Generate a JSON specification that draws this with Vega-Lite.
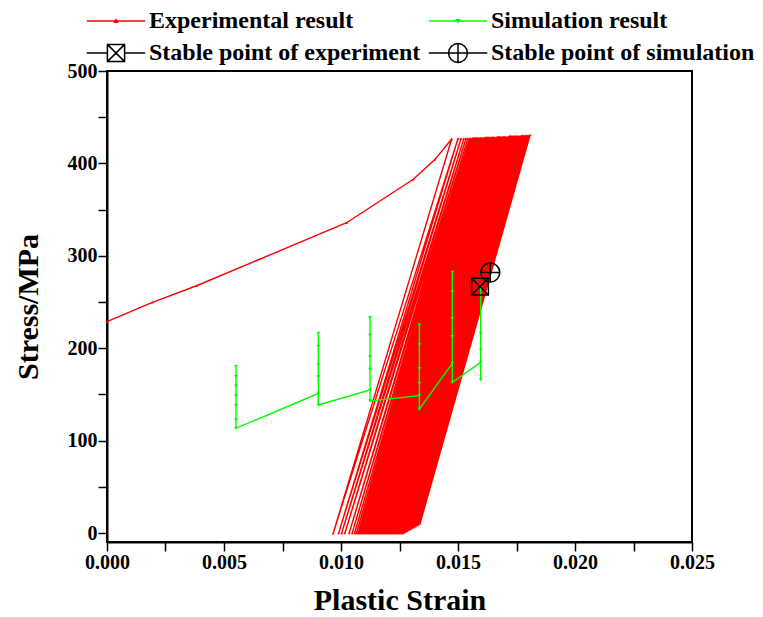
{
  "$schema": "https://vega.github.io/schema/vega-lite/v6.json",
  "autosize": {"type": "none"},
  "padding": {"left": 107, "top": 71, "right": 71, "bottom": 75},
  "width": 585,
  "height": 471,
  "background": "white",
  "config": {
    "view": {"stroke": "#000", "strokeWidth": 2},
    "axis": {
      "labelFont": "Liberation Serif", "labelFontWeight": "bold", "labelFontSize": 20, "labelColor": "#000",
      "titleFont": "Liberation Serif", "titleFontWeight": "bold", "titleFontSize": 30, "titleColor": "#000",
      "domainColor": "#000", "domainWidth": 2, "tickColor": "#000", "tickWidth": 1.5, "grid": false,
      "labelOverlap": false, "labelFlush": false
    }
  },
  "encoding": {
    "x": {
      "field": "s", "type": "quantitative",
      "scale": {"domain": [0, 0.025], "nice": false, "zero": false},
      "axis": {
        "title": "Plastic Strain",
        "values": [0, 0.0025, 0.005, 0.0075, 0.01, 0.0125, 0.015, 0.0175, 0.02, 0.0225, 0.025],
        "labelExpr": "abs(datum.value*200 - round(datum.value*200)) < 0.001 ? format(datum.value, '.3f') : ''",
        "ticks": true,
        "tickSize": 9,
        "labelPadding": 1,
        "titlePadding": 13,
        "encode": {"ticks": {"update": {"y2": {"signal": "abs(datum.value*200 - round(datum.value*200)) < 0.001 ? -9 : -5"}}}}
      }
    },
    "y": {
      "field": "p", "type": "quantitative",
      "scale": {"domain": [-9.74, 500], "nice": false, "zero": false},
      "axis": {
        "title": "Stress/MPa",
        "values": [0, 50, 100, 150, 200, 250, 300, 350, 400, 450, 500],
        "labelExpr": "datum.value % 100 === 0 ? datum.label : ''",
        "ticks": true,
        "tickSize": 9,
        "labelPadding": 1,
        "titlePadding": 24,
        "encode": {"ticks": {"update": {"x2": {"signal": "datum.value % 100 === 0 ? 9 : 5"}}}}
      }
    }
  },
  "layer": [
    {
      "data": {"values": [
        {"s":0,"p":228.7,"o":1},{"s":0.00194,"p":249.7,"o":2},{"s":0.00383,"p":267.6,"o":3},{"s":0.01024,"p":335.8,"o":4},
        {"s":0.01309,"p":382.8,"o":5},{"s":0.01402,"p":404.4,"o":6},{"s":0.01473,"p":426.4,"o":7},
        {"s":0.00967,"p":0,"o":8},{"s":0.01500,"p":427,"o":9},{"s":0.00990,"p":0,"o":10},{"s":0.01513,"p":427,"o":11},
        {"s":0.01003,"p":0,"o":12},{"s":0.01525,"p":427,"o":13},{"s":0.01017,"p":0,"o":14},{"s":0.01534,"p":427,"o":15},
        {"s":0.01035,"p":0,"o":16},{"s":0.01542,"p":427,"o":17},{"s":0.01048,"p":0,"o":18},{"s":0.01549,"p":427,"o":19},
        {"s":0.01058,"p":0,"o":20},{"s":0.01555,"p":427,"o":21},{"s":0.01066,"p":0,"o":22},{"s":0.01560,"p":427,"o":23},
        {"s":0.01073,"p":0,"o":24},{"s":0.01564,"p":427.5,"o":25},{"s":0.01079,"p":0,"o":26},{"s":0.01569,"p":427.5,"o":27},
        {"s":0.01084,"p":0,"o":28},{"s":0.01574,"p":427.5,"o":29},{"s":0.01090,"p":0,"o":30},{"s":0.01580,"p":427.5,"o":31},
        {"s":0.01096,"p":0,"o":32},{"s":0.01585,"p":427.5,"o":33},{"s":0.01101,"p":0,"o":34},{"s":0.01590,"p":427.5,"o":35},
        {"s":0.01107,"p":0,"o":36},{"s":0.01595,"p":427.5,"o":37},{"s":0.01112,"p":0,"o":38},{"s":0.01600,"p":427.5,"o":39},
        {"s":0.01118,"p":0,"o":40},{"s":0.01606,"p":427.5,"o":41},{"s":0.01124,"p":0,"o":42},{"s":0.01611,"p":427.5,"o":43},
        {"s":0.01129,"p":0,"o":44},{"s":0.01616,"p":428,"o":45},{"s":0.01135,"p":0,"o":46},{"s":0.01621,"p":428,"o":47},
        {"s":0.01141,"p":0,"o":48},{"s":0.01626,"p":428,"o":49},{"s":0.01146,"p":0,"o":50},{"s":0.01631,"p":428,"o":51},
        {"s":0.01152,"p":0,"o":52},{"s":0.01637,"p":428,"o":53},{"s":0.01158,"p":0,"o":54},{"s":0.01642,"p":428,"o":55},
        {"s":0.01163,"p":0,"o":56},{"s":0.01647,"p":428,"o":57},{"s":0.01169,"p":0,"o":58},{"s":0.01652,"p":428,"o":59},
        {"s":0.01175,"p":0,"o":60},{"s":0.01657,"p":428,"o":61},{"s":0.01180,"p":0,"o":62},{"s":0.01663,"p":428,"o":63},
        {"s":0.01186,"p":0,"o":64},{"s":0.01668,"p":428.5,"o":65},{"s":0.01191,"p":0,"o":66},{"s":0.01673,"p":428.5,"o":67},
        {"s":0.01197,"p":0,"o":68},{"s":0.01678,"p":428.5,"o":69},{"s":0.01203,"p":0,"o":70},{"s":0.01683,"p":428.5,"o":71},
        {"s":0.01208,"p":0,"o":72},{"s":0.01689,"p":428.5,"o":73},{"s":0.01214,"p":0,"o":74},{"s":0.01694,"p":428.5,"o":75},
        {"s":0.01220,"p":0,"o":76},{"s":0.01699,"p":428.5,"o":77},{"s":0.01225,"p":0,"o":78},{"s":0.01704,"p":428.5,"o":79},
        {"s":0.01231,"p":0,"o":80},{"s":0.01709,"p":428.5,"o":81},{"s":0.01237,"p":0,"o":82},{"s":0.01715,"p":428.5,"o":83},
        {"s":0.01242,"p":0,"o":84},{"s":0.01720,"p":429.5,"o":85},{"s":0.01248,"p":0,"o":86},{"s":0.01725,"p":429.5,"o":87},
        {"s":0.01253,"p":0,"o":88},{"s":0.01730,"p":429.5,"o":89},{"s":0.01259,"p":0,"o":90},{"s":0.01735,"p":429.5,"o":91},
        {"s":0.01265,"p":0,"o":92},{"s":0.01740,"p":429.5,"o":93},{"s":0.01270,"p":0.8,"o":94},{"s":0.01746,"p":429.5,"o":95},
        {"s":0.01276,"p":1.6,"o":96},{"s":0.01751,"p":429.5,"o":97},{"s":0.01282,"p":2.4,"o":98},{"s":0.01756,"p":429.5,"o":99},
        {"s":0.01287,"p":3.2,"o":100},{"s":0.01761,"p":429.5,"o":101},{"s":0.01293,"p":4,"o":102},{"s":0.01766,"p":429.5,"o":103},
        {"s":0.01299,"p":4.9,"o":104},{"s":0.01772,"p":430,"o":105},{"s":0.01304,"p":5.7,"o":106},{"s":0.01777,"p":430,"o":107},
        {"s":0.01310,"p":6.5,"o":108},{"s":0.01782,"p":430,"o":109},{"s":0.01316,"p":7.3,"o":110},{"s":0.01787,"p":430,"o":111},
        {"s":0.01321,"p":8.1,"o":112},{"s":0.01792,"p":430,"o":113},{"s":0.01327,"p":8.9,"o":114},{"s":0.01798,"p":430,"o":115},
        {"s":0.01332,"p":9.7,"o":116},{"s":0.01803,"p":430,"o":117},{"s":0.01338,"p":10.5,"o":118},{"s":0.01808,"p":430.7,"o":119}
      ]},
      "mark": {"type": "line", "strokeWidth": 1.4, "point": {"filled": true, "shape": "triangle-up", "size": 8}},
      "encoding": {
        "order": {"field": "o", "type": "quantitative"},
        "color": {
          "datum": "Experimental result",
          "scale": {
            "domain": ["Experimental result", "Stable point of experiment", "Simulation result", "Stable point of simulation"],
            "range": ["#ff0000", "#000000", "#00ff00", "#000000"]
          },
          "legend": {
            "title": null,
            "orient": "none",
            "legendX": -20,
            "legendY": -62,
            "columns": 2,
            "columnPadding": 5,
            "rowPadding": 7,
            "padding": 0,
            "symbolSize": 100,
            "symbolOffset": 17,
            "labelOffset": 21,
            "labelFont": "Liberation Serif",
            "labelFontWeight": "bold",
            "labelFontSize": 24,
            "labelColor": "#000",
            "labelLimit": 0,
            "encode": {
              "symbols": {
                "update": {
                  "shape": {"signal": "datum.value === 'Experimental result' ? 'M-5.74,0H5.74M-0.29,0.26L0,-0.26L0.29,0.26Z' : datum.value === 'Simulation result' ? 'M-5.74,0H5.74M-0.29,-0.26L0,0.26L0.29,-0.26Z' : datum.value === 'Stable point of experiment' ? 'M-5.74,0H-1.72M1.72,0H5.74M-1.72,-1.72H1.72M1.72,-1.72V1.72M1.72,1.72H-1.72M-1.72,1.72V-1.72M-1.72,-1.72L1.72,1.72M-1.72,1.72L1.72,-1.72' : 'M-5.74,0H-1.894M1.894,0H5.74M0,-1.894V1.894M-1.894,0H1.894M1.894,0L1.75,0.725M1.75,0.725L1.339,1.339M1.339,1.339L0.725,1.75M0.725,1.75L0,1.894M0,1.894L-0.725,1.75M-0.725,1.75L-1.339,1.339M-1.339,1.339L-1.75,0.725M-1.75,0.725L-1.894,0M-1.894,0L-1.75,-0.725M-1.75,-0.725L-1.339,-1.339M-1.339,-1.339L-0.725,-1.75M-0.725,-1.75L0,-1.894M0,-1.894L0.725,-1.75M0.725,-1.75L1.339,-1.339M1.339,-1.339L1.75,-0.725M1.75,-0.725L1.894,0'"},
                  "size": {"value": 100},
                  "stroke": {"signal": "datum.value === 'Experimental result' ? '#ff0000' : datum.value === 'Simulation result' ? '#00ff00' : '#000000'"},
                  "fill": {"signal": "datum.value === 'Experimental result' ? '#ff0000' : datum.value === 'Simulation result' ? '#00ff00' : 'transparent'"},
                  "strokeWidth": {"value": 1.5},
                  "strokeCap": {"value": "round"},
                  "opacity": {"value": 1}
                }
              }
            }
          }
        }
      }
    },
    {
      "data": {"values": [
        {"s":0.00551,"p":122.3,"o":1},{"s":0.00551,"p":137.8,"o":2},{"s":0.00551,"p":148.6,"o":3},{"s":0.00551,"p":159,"o":4},
        {"s":0.00551,"p":169.2,"o":5},{"s":0.00551,"p":180,"o":6},{"s":0.00551,"p":113.3,"o":7},
        {"s":0.00903,"p":151,"o":8},{"s":0.00903,"p":169,"o":9},{"s":0.00903,"p":182,"o":10},{"s":0.00903,"p":202,"o":11},
        {"s":0.00903,"p":216,"o":12},{"s":0.00903,"p":138.5,"o":13},
        {"s":0.01124,"p":154.8,"o":14},{"s":0.01124,"p":177,"o":15},{"s":0.01124,"p":191,"o":16},{"s":0.01124,"p":214,"o":17},
        {"s":0.01124,"p":233,"o":18},{"s":0.01124,"p":142.9,"o":19},
        {"s":0.01335,"p":148.6,"o":20},{"s":0.01335,"p":162,"o":21},{"s":0.01335,"p":178,"o":22},{"s":0.01335,"p":203.5,"o":23},
        {"s":0.01335,"p":225,"o":24},{"s":0.01335,"p":134,"o":25},
        {"s":0.01476,"p":183.6,"o":26},{"s":0.01476,"p":212.5,"o":27},{"s":0.01476,"p":232,"o":28},{"s":0.01476,"p":261,"o":29},
        {"s":0.01476,"p":282,"o":30},{"s":0.01476,"p":163,"o":31},
        {"s":0.01597,"p":184.7,"o":32},{"s":0.01597,"p":198,"o":33},{"s":0.01597,"p":216,"o":34},{"s":0.01597,"p":255.7,"o":35},
        {"s":0.01597,"p":265,"o":36},{"s":0.01597,"p":165.6,"o":37}
      ]},
      "mark": {"type": "line", "strokeWidth": 1.4, "point": {"filled": true, "shape": "triangle-down", "size": 14}},
      "encoding": {
        "order": {"field": "o", "type": "quantitative"},
        "color": {"datum": "Simulation result"}
      }
    },
    {
      "data": {"values": [{"s": 0.01594, "p": 266.6}]},
      "mark": {"type": "point", "shape": "M-1,-1H1V1H-1ZM-1,-1L1,1M-1,1L1,-1", "filled": false, "size": 280, "strokeWidth": 1.5, "opacity": 1},
      "encoding": {"color": {"datum": "Stable point of experiment"}}
    },
    {
      "data": {"values": [{"s": 0.01638, "p": 281.8}]},
      "mark": {"type": "point", "shape": "M-1,0A1,1,0,1,0,1,0A1,1,0,1,0,-1,0ZM-1,0H1M0,-1V1", "filled": false, "size": 361, "strokeWidth": 1.5, "opacity": 1},
      "encoding": {"color": {"datum": "Stable point of simulation"}}
    }
  ]
}
